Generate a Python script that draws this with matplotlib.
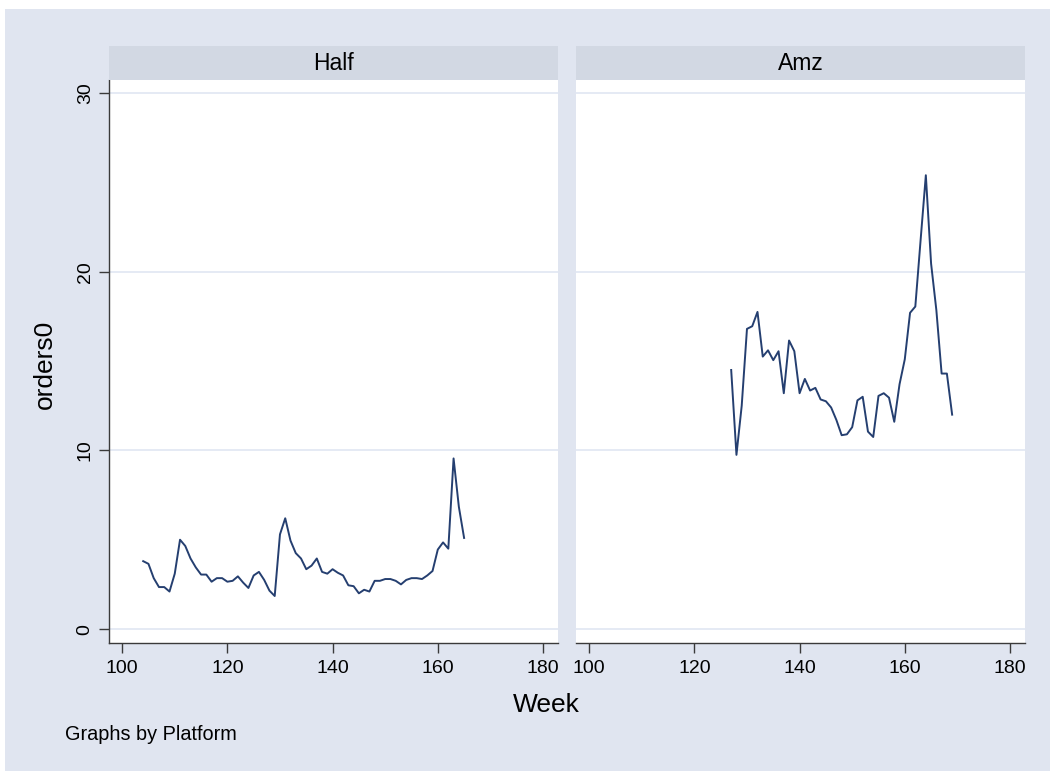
import matplotlib
matplotlib.use("Agg")
import matplotlib.pyplot as plt
from matplotlib.patches import Rectangle

plt.rcParams['font.family'] = ['Liberation Sans', 'DejaVu Sans']

# ---- data ----
panels = ["Half", "Amz"]
half_weeks = list(range(104, 166))
half_orders = [3.8, 3.65, 2.85, 2.35, 2.35, 2.1, 3.1, 5.0, 4.65, 3.95,
               3.45, 3.05, 3.05, 2.65, 2.85, 2.85, 2.65, 2.7, 2.95, 2.6,
               2.3, 3.0, 3.2, 2.75, 2.15, 1.85, 5.3, 6.2, 4.95, 4.25,
               3.95, 3.35, 3.55, 3.95, 3.2, 3.1, 3.35, 3.15, 3.0, 2.45,
               2.4, 2.0, 2.2, 2.1, 2.7, 2.7, 2.8, 2.8, 2.7, 2.5,
               2.75, 2.85, 2.85, 2.8, 3.0, 3.25, 4.45, 4.85, 4.5, 9.55,
               6.85, 5.1]
amz_weeks = list(range(127, 170))
amz_orders = [14.5, 9.75, 12.5, 16.8, 16.95, 17.75, 15.25, 15.6, 15.05, 15.55,
              13.2, 16.15, 15.55, 13.2, 14.0, 13.35, 13.5, 12.85, 12.75, 12.4,
              11.7, 10.85, 10.9, 11.3, 12.8, 13.0, 11.05, 10.75, 13.05, 13.2,
              12.95, 11.6, 13.7, 15.1, 17.7, 18.05, 21.75, 25.4, 20.45, 17.85,
              14.3, 14.3, 12.0]
x_ticks = [100, 120, 140, 160, 180]
y_ticks = [0, 10, 20, 30]
series = [(half_weeks, half_orders), (amz_weeks, amz_orders)]

W, H = 1050, 771
bg = '#E0E5F0'
strip_c = '#D2D8E3'
grid_c = '#E3E8F3'
line_c = '#253F70'
axis_c = '#3a3a3a'

fig = plt.figure(figsize=(W / 100, H / 100), dpi=100, facecolor='white')
fig.patches.append(Rectangle((5 / W, 0), 1 - 5 / W, 1 - 9 / H, transform=fig.transFigure,
                             facecolor=bg, edgecolor='none', zorder=-10))

def fx(px):
    return px / W

def fy(py):
    return 1 - py / H

ax_x = [109, 576]
ax_w = 449
top, bottom = 80, 643
strip_top = 46

for i, (name, (wk, vals)) in enumerate(zip(panels, series)):
    ax = fig.add_axes([fx(ax_x[i]), fy(bottom), ax_w / W, (bottom - top) / H])
    ax.set_facecolor('white')
    ax.plot(wk, vals, color=line_c, lw=1.4, solid_joinstyle='round')
    ax.set_xlim(97.5, 182.85)
    ax.set_ylim(-0.78, 30.73)
    ax.set_yticks(y_ticks)
    ax.set_xticks(x_ticks)
    ax.grid(axis='y', color=grid_c, lw=1.3)
    ax.set_axisbelow(True)
    for s in ['top', 'right']:
        ax.spines[s].set_visible(False)
    ax.spines['bottom'].set_color(axis_c)
    ax.spines['bottom'].set_linewidth(1.0)
    ax.tick_params(axis='x', length=7, width=1.0, color=axis_c, labelsize=14, pad=5)
    if i == 0:
        ax.spines['left'].set_color(axis_c)
        ax.spines['left'].set_linewidth(1.0)
        ax.tick_params(axis='y', length=7, width=1.0, color=axis_c, labelsize=14, pad=4)
        for lab in ax.get_yticklabels():
            lab.set_rotation(90)
            lab.set_va('center')
    else:
        ax.spines['left'].set_visible(False)
        ax.tick_params(axis='y', length=0, labelleft=False)
    # strip
    fig.patches.append(Rectangle((fx(ax_x[i]), fy(top)), ax_w / W, (top - strip_top) / H,
                                 transform=fig.transFigure, facecolor=strip_c,
                                 edgecolor='none', zorder=1))
    fig.text(fx(ax_x[i] + ax_w / 2), fy((top + strip_top) / 2), name,
             ha='center', va='center', fontsize=16.5, color='black')

fig.text(fx(546), fy(705), "Week", ha='center', va='center', fontsize=19, color='black')
fig.text(fx(45), fy(364), "orders0", ha='center', va='center', rotation=90,
         fontsize=19, color='black')
fig.text(fx(65), fy(735), "Graphs by Platform", ha='left', va='center',
         fontsize=14.3, color='black')

fig.savefig("out.png", dpi=100, facecolor=fig.get_facecolor())
